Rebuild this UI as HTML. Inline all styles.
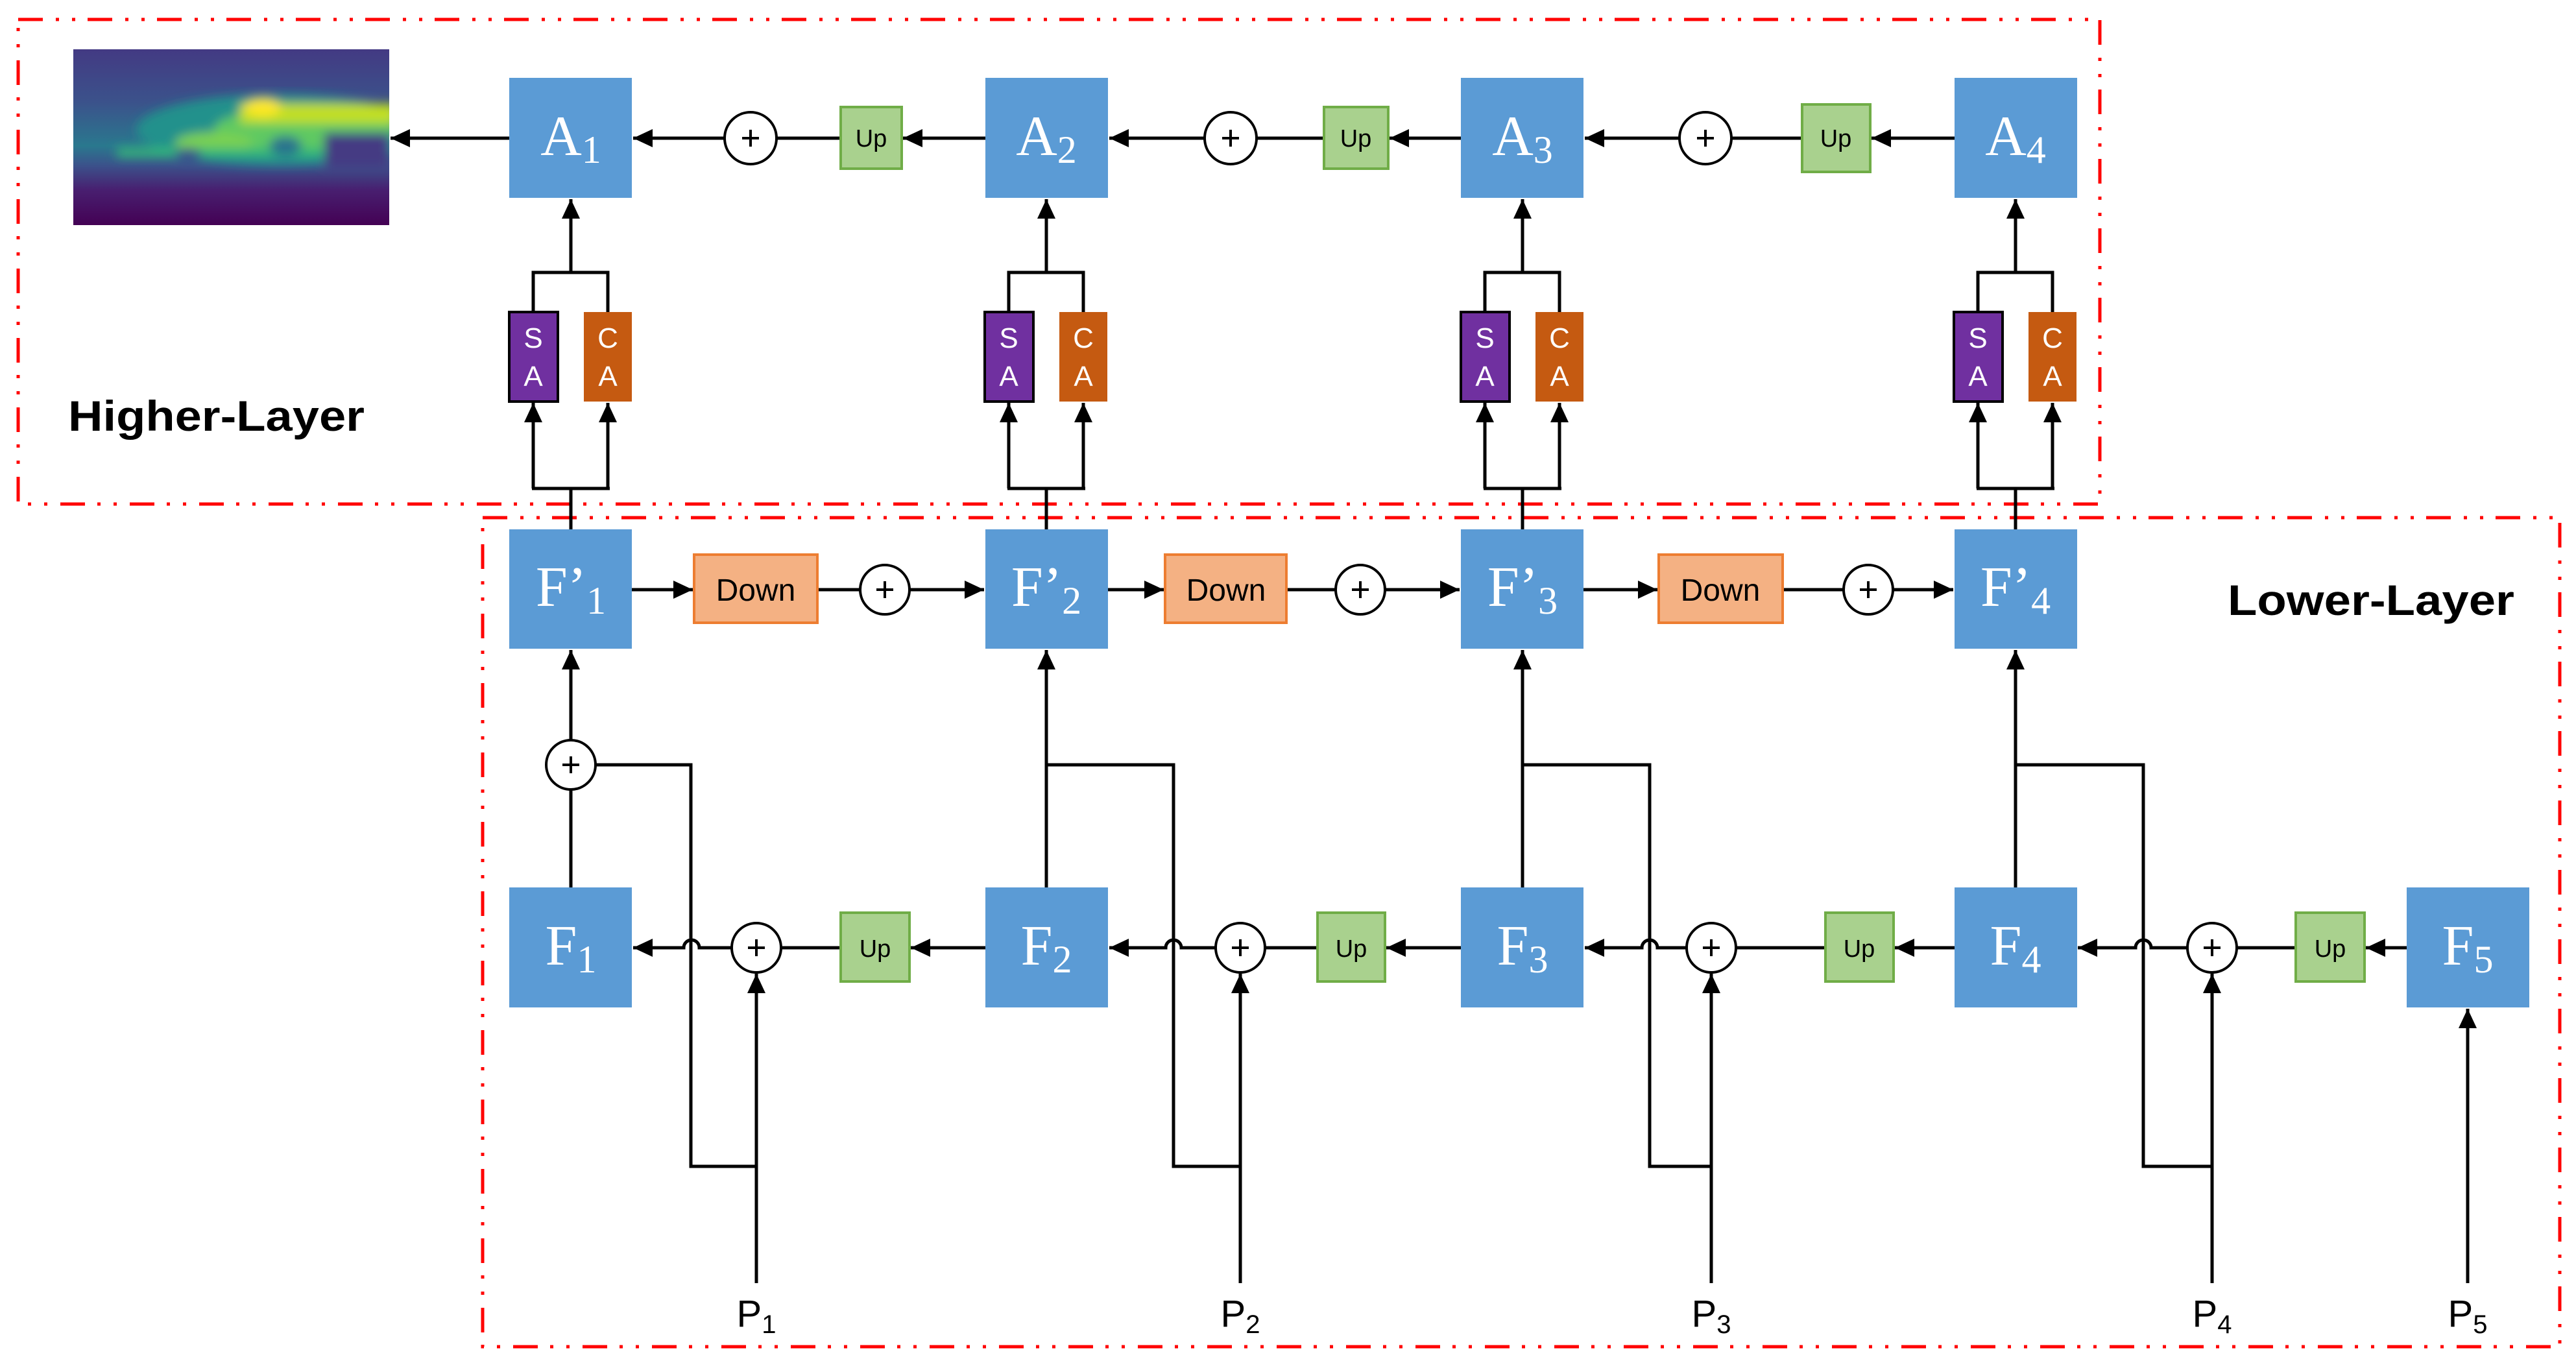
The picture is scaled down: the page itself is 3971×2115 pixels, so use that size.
<!DOCTYPE html>
<html><head><meta charset="utf-8"><style>html,body{margin:0;padding:0;background:#fff}svg{display:block}</style></head>
<body>
<svg width="3971" height="2115" viewBox="0 0 3971 2115" xmlns="http://www.w3.org/2000/svg">
<defs>
<marker id="ar" markerUnits="userSpaceOnUse" markerWidth="32" markerHeight="28" refX="30" refY="14" orient="auto"><path d="M0,0 L30,14 L0,28 z" fill="#000"/></marker>
<linearGradient id="bg" x1="0" y1="0" x2="0" y2="1">
<stop offset="0" stop-color="#433a83"/><stop offset="0.3" stop-color="#3b528b"/><stop offset="0.55" stop-color="#2a788e"/><stop offset="0.66" stop-color="#3b528b"/><stop offset="0.8" stop-color="#481f70"/><stop offset="1" stop-color="#440154"/></linearGradient>
<filter id="bl"><feGaussianBlur stdDeviation="8"/></filter>
<clipPath id="cp"><rect x="113" y="76" width="487" height="271"/></clipPath>
</defs>
<g clip-path="url(#cp)">
<rect x="113" y="76" width="487" height="271" fill="url(#bg)"/>
<g filter="url(#bl)">
<ellipse cx="430" cy="200" rx="220" ry="55" fill="#21918c"/>
<ellipse cx="470" cy="200" rx="140" ry="35" fill="#5ec962"/>
<rect x="370" y="160" width="240" height="30" fill="#c2df23"/>
<ellipse cx="405" cy="166" rx="28" ry="14" fill="#fde725"/>
<ellipse cx="330" cy="220" rx="60" ry="16" fill="#7ad151"/>
<rect x="180" y="228" width="420" height="14" fill="#35b779"/>
<rect x="500" y="205" width="100" height="55" fill="#443a83"/>
<ellipse cx="290" cy="238" rx="20" ry="10" fill="#3b528b"/>
<ellipse cx="440" cy="225" rx="25" ry="15" fill="#2c728e"/>
</g>
</g>
<g fill="none" stroke="#ff0000" stroke-width="5" stroke-dasharray="38 20 5 20 5 19">
<rect x="28" y="30" width="3209" height="747"/>
<rect x="744" y="798" width="3202" height="1278"/>
</g>
<g font-family="Liberation Sans, sans-serif" font-weight="bold" font-size="66" fill="#000">
<text x="105" y="664" textLength="457" lengthAdjust="spacingAndGlyphs">Higher-Layer</text>
<text x="3434" y="948" textLength="442" lengthAdjust="spacingAndGlyphs">Lower-Layer</text>
</g>
<g stroke="#000" stroke-width="5" fill="none">
<line x1="785" y1="213" x2="602" y2="213" marker-end="url(#ar)"/>
<line x1="1519" y1="213" x2="1392" y2="213" marker-end="url(#ar)"/>
<line x1="1296" y1="213" x2="1197" y2="213"/>
<line x1="1117" y1="213" x2="976" y2="213" marker-end="url(#ar)"/>
<line x1="2252" y1="213" x2="2142" y2="213" marker-end="url(#ar)"/>
<line x1="2041" y1="213" x2="1937" y2="213"/>
<line x1="1857" y1="213" x2="1710" y2="213" marker-end="url(#ar)"/>
<line x1="3013" y1="213" x2="2885" y2="213" marker-end="url(#ar)"/>
<line x1="2778" y1="213" x2="2669" y2="213"/>
<line x1="2589" y1="213" x2="2443" y2="213" marker-end="url(#ar)"/>
<line x1="974" y1="909" x2="1068" y2="909" marker-end="url(#ar)"/>
<line x1="1260" y1="909" x2="1326" y2="909"/>
<line x1="1402" y1="909" x2="1517" y2="909" marker-end="url(#ar)"/>
<line x1="1708" y1="909" x2="1794" y2="909" marker-end="url(#ar)"/>
<line x1="1983" y1="909" x2="2059" y2="909"/>
<line x1="2135" y1="909" x2="2250" y2="909" marker-end="url(#ar)"/>
<line x1="2441" y1="909" x2="2555" y2="909" marker-end="url(#ar)"/>
<line x1="2748" y1="909" x2="2842" y2="909"/>
<line x1="2918" y1="909" x2="3011" y2="909" marker-end="url(#ar)"/>
<line x1="1519" y1="1461" x2="1404" y2="1461" marker-end="url(#ar)"/>
<line x1="1296" y1="1461" x2="1204" y2="1461"/>
<path d="M1128,1461 H1078 A12,12 0 0 0 1054,1461 H976" marker-end="url(#ar)"/>
<line x1="2252" y1="1461" x2="2137" y2="1461" marker-end="url(#ar)"/>
<line x1="2031" y1="1461" x2="1950" y2="1461"/>
<path d="M1874,1461 H1821 A12,12 0 0 0 1797,1461 H1710" marker-end="url(#ar)"/>
<line x1="3013" y1="1461" x2="2921" y2="1461" marker-end="url(#ar)"/>
<line x1="2814" y1="1461" x2="2676" y2="1461"/>
<path d="M2600,1461 H2555 A12,12 0 0 0 2531,1461 H2443" marker-end="url(#ar)"/>
<line x1="3710" y1="1461" x2="3647" y2="1461" marker-end="url(#ar)"/>
<line x1="3539" y1="1461" x2="3448" y2="1461"/>
<path d="M3372,1461 H3316 A12,12 0 0 0 3292,1461 H3203" marker-end="url(#ar)"/>
<line x1="880" y1="1368" x2="880" y2="1217"/>
<line x1="880" y1="1141" x2="880" y2="1002" marker-end="url(#ar)"/>
<polyline points="918,1179 1065,1179 1065,1798 1166,1798"/>
<line x1="1166" y1="1978" x2="1166" y2="1501" marker-end="url(#ar)"/>
<line x1="1613" y1="1368" x2="1613" y2="1002" marker-end="url(#ar)"/>
<polyline points="1613,1179 1809,1179 1809,1798 1912,1798"/>
<line x1="1912" y1="1978" x2="1912" y2="1501" marker-end="url(#ar)"/>
<line x1="2347" y1="1368" x2="2347" y2="1002" marker-end="url(#ar)"/>
<polyline points="2347,1179 2543,1179 2543,1798 2638,1798"/>
<line x1="2638" y1="1978" x2="2638" y2="1501" marker-end="url(#ar)"/>
<line x1="3107" y1="1368" x2="3107" y2="1002" marker-end="url(#ar)"/>
<polyline points="3107,1179 3304,1179 3304,1798 3410,1798"/>
<line x1="3410" y1="1978" x2="3410" y2="1501" marker-end="url(#ar)"/>
<line x1="3804" y1="1978" x2="3804" y2="1555" marker-end="url(#ar)"/>
<g id="br">
<line x1="880" y1="816" x2="880" y2="753"/>
<line x1="820" y1="753" x2="940" y2="753"/>
<line x1="822" y1="753" x2="822" y2="621" marker-end="url(#ar)"/>
<line x1="937" y1="753" x2="937" y2="621" marker-end="url(#ar)"/>
<polyline points="822,481 822,420 937,420 937,481"/>
<line x1="880" y1="420" x2="880" y2="307" marker-end="url(#ar)"/>
</g>
<use href="#br" transform="translate(733,0)"/>
<use href="#br" transform="translate(1467,0)"/>
<use href="#br" transform="translate(2227,0)"/>
</g>
<g stroke="#000" stroke-width="4" fill="#fff">
<circle cx="1157" cy="213" r="40"/><circle cx="1897" cy="213" r="40"/><circle cx="2629" cy="213" r="40"/>
<circle cx="1364" cy="909" r="38"/><circle cx="2097" cy="909" r="38"/><circle cx="2880" cy="909" r="38"/>
<circle cx="880" cy="1179" r="38"/>
<circle cx="1166" cy="1461" r="38"/><circle cx="1912" cy="1461" r="38"/><circle cx="2638" cy="1461" r="38"/><circle cx="3410" cy="1461" r="38"/>
</g>
<g stroke="#000" stroke-width="4">
<path d="M1144,213h26M1157,200v26 M1884,213h26M1897,200v26 M2616,213h26M2629,200v26 M1351,909h26M1364,896v26 M2084,909h26M2097,896v26 M2867,909h26M2880,896v26 M867,1179h26M880,1166v26 M1153,1461h26M1166,1448v26 M1899,1461h26M1912,1448v26 M2625,1461h26M2638,1448v26 M3397,1461h26M3410,1448v26"/>
</g>
<g fill="#5b9bd5">
<rect x="785" y="120" width="189" height="185"/><rect x="1519" y="120" width="189" height="185"/><rect x="2252" y="120" width="189" height="185"/><rect x="3013" y="120" width="189" height="185"/>
<rect x="785" y="816" width="189" height="184"/><rect x="1519" y="816" width="189" height="184"/><rect x="2252" y="816" width="189" height="184"/><rect x="3013" y="816" width="189" height="184"/>
<rect x="785" y="1368" width="189" height="185"/><rect x="1519" y="1368" width="189" height="185"/><rect x="2252" y="1368" width="189" height="185"/><rect x="3013" y="1368" width="189" height="185"/><rect x="3710" y="1368" width="189" height="185"/>
</g>
<g stroke="#000" stroke-width="4" fill="#7030a0">
<rect x="785" y="481" width="75" height="138"/><rect x="1518" y="481" width="75" height="138"/><rect x="2252" y="481" width="75" height="138"/><rect x="3012" y="481" width="75" height="138"/>
</g>
<g fill="#c55a11">
<rect x="900" y="481" width="74" height="138"/><rect x="1633" y="481" width="74" height="138"/><rect x="2367" y="481" width="74" height="138"/><rect x="3127" y="481" width="74" height="138"/>
</g>
<g font-family="Liberation Sans, sans-serif" font-size="44" fill="#fff" text-anchor="middle">
<text x="822" y="536">S</text><text x="822" y="595">A</text><text x="937" y="536">C</text><text x="937" y="595">A</text>
<text x="1555" y="536">S</text><text x="1555" y="595">A</text><text x="1670" y="536">C</text><text x="1670" y="595">A</text>
<text x="2289" y="536">S</text><text x="2289" y="595">A</text><text x="2404" y="536">C</text><text x="2404" y="595">A</text>
<text x="3049" y="536">S</text><text x="3049" y="595">A</text><text x="3164" y="536">C</text><text x="3164" y="595">A</text>
</g>
<g fill="#a9d18e" stroke="#70ad47" stroke-width="4">
<rect x="1296" y="165" width="94" height="95"/><rect x="2041" y="165" width="99" height="95"/><rect x="2778" y="161" width="105" height="104"/>
<rect x="1296" y="1407" width="106" height="106"/><rect x="2031" y="1407" width="104" height="106"/><rect x="2814" y="1407" width="105" height="106"/><rect x="3539" y="1407" width="106" height="106"/>
</g>
<g fill="#f4b183" stroke="#ed7d31" stroke-width="4">
<rect x="1070" y="855" width="190" height="105"/><rect x="1796" y="855" width="187" height="105"/><rect x="2557" y="855" width="191" height="105"/>
</g>
<g font-family="Liberation Sans, sans-serif" fill="#000" text-anchor="middle">
<g font-size="38">
<text x="1343" y="226">Up</text><text x="2090" y="226">Up</text><text x="2830" y="226">Up</text>
<text x="1349" y="1475">Up</text><text x="2083" y="1475">Up</text><text x="2866" y="1475">Up</text><text x="3592" y="1475">Up</text>
</g>
<g font-size="48">
<text x="1165" y="926">Down</text><text x="1890" y="926">Down</text><text x="2652" y="926">Down</text>
</g>
<g font-size="58">
<text x="1166" y="2045">P<tspan font-size="40" dy="10">1</tspan></text>
<text x="1912" y="2045">P<tspan font-size="40" dy="10">2</tspan></text>
<text x="2638" y="2045">P<tspan font-size="40" dy="10">3</tspan></text>
<text x="3410" y="2045">P<tspan font-size="40" dy="10">4</tspan></text>
<text x="3804" y="2045">P<tspan font-size="40" dy="10">5</tspan></text>
</g>
</g>
<g font-family="Liberation Serif, serif" font-size="88" fill="#fff" text-anchor="middle">
<text x="880" y="239">A<tspan font-size="60" dy="12">1</tspan></text>
<text x="1613" y="239">A<tspan font-size="60" dy="12">2</tspan></text>
<text x="2347" y="239">A<tspan font-size="60" dy="12">3</tspan></text>
<text x="3107" y="239">A<tspan font-size="60" dy="12">4</tspan></text>
<text x="880" y="934">F’<tspan font-size="60" dy="12">1</tspan></text>
<text x="1613" y="934">F’<tspan font-size="60" dy="12">2</tspan></text>
<text x="2347" y="934">F’<tspan font-size="60" dy="12">3</tspan></text>
<text x="3107" y="934">F’<tspan font-size="60" dy="12">4</tspan></text>
<text x="880" y="1487">F<tspan font-size="60" dy="12">1</tspan></text>
<text x="1613" y="1487">F<tspan font-size="60" dy="12">2</tspan></text>
<text x="2347" y="1487">F<tspan font-size="60" dy="12">3</tspan></text>
<text x="3107" y="1487">F<tspan font-size="60" dy="12">4</tspan></text>
<text x="3804" y="1487">F<tspan font-size="60" dy="12">5</tspan></text>
</g>
</svg>
</body></html>
